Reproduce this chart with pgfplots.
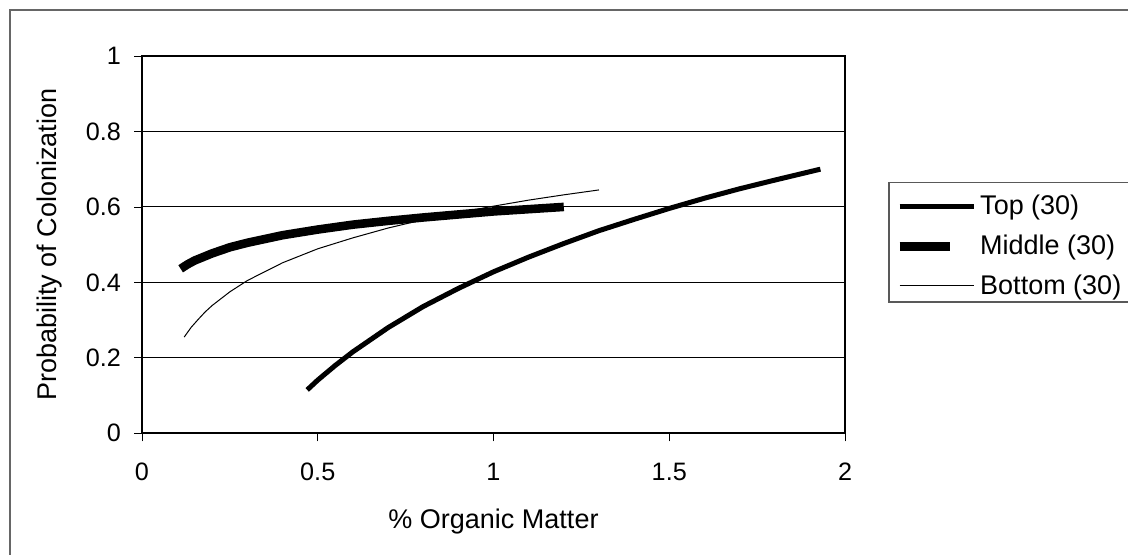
\documentclass[border=0pt]{standalone}
\usepackage{fontspec}
\setmainfont{Liberation Sans}
\usepackage{pgfplots}
\pgfplotsset{compat=1.18}
\newcommand{\tickfont}{\fontsize{12.6}{14}\selectfont}

\begin{document}
\begin{tikzpicture}
  % page area and outer chart frame (only top and left edges fall on the page)
  \useasboundingbox (0,0) rectangle (564pt,277.5pt);
  \clip (0,0) rectangle (564pt,277.5pt);
  \draw[gray!80!black, line width=0.6pt] (5pt,0pt) -- (5pt,272.5pt) -- (564pt,272.5pt);

  \begin{axis}[
    at={(71pt,60.85pt)}, anchor=south west,
    scale only axis, width=351.5pt, height=188.65pt,
    xmin=0, xmax=2, ymin=0, ymax=1,
    xtick={0,0.5,1,1.5,2}, ytick={0,0.2,0.4,0.6,0.8,1},
    xticklabels={{\tickfont 0},{\tickfont 0.5},{\tickfont 1},{\tickfont 1.5},{\tickfont 2}},
    yticklabels={{\tickfont 0},{\tickfont 0.2},{\tickfont 0.4},{\tickfont 0.6},{\tickfont 0.8},{\tickfont 1}},
    tick align=outside, major tick length=4pt,
    tick style={black, line width=0.4pt},
    xtick pos=bottom, ytick pos=left,
    ymajorgrids, grid style={black, line width=0.5pt},
    axis line style={black, line width=0.9pt},
    xticklabel style={yshift=-7.5pt},
    yticklabel style={xshift=-3pt},
    xlabel={\% Organic Matter},
    ylabel={Probability of Colonization},
    label style={font=\fontsize{13.5}{15}\selectfont},
    xlabel style={at={(axis description cs:0.5,0)}, anchor=center, yshift=-44.3pt},
    ylabel style={at={(axis description cs:0,0.5)}, anchor=center, yshift=46pt},
    legend style={draw=none, fill=none,
      at={(axis description cs:1.0626,0.6580)}, anchor=north west,
      font=\fontsize{13.5}{15}\selectfont, inner sep=3pt,
      row sep=4.5pt, cells={anchor=west}},
    legend cell align=left,
  ]
    % Top (30)
    \addplot[black, line width=2.5pt, legend image code/.code={
        \draw[black, line width=2.5pt] (0pt,0pt) -- (37pt,0pt);}]
      coordinates {
      (0.47,0.115) (0.50,0.141) (0.55,0.180) (0.60,0.216) (0.70,0.280)
      (0.80,0.336) (0.90,0.384) (1.00,0.428) (1.10,0.467) (1.20,0.503)
      (1.30,0.537) (1.40,0.567) (1.50,0.596) (1.60,0.623) (1.70,0.648)
      (1.80,0.671) (1.93,0.700)};
    \addlegendentry{Top (30)}

    % Middle (30)
    \addplot[black, line width=4.3pt, legend image code/.code={
        \draw[black, line width=4.3pt] (0pt,0pt) -- (25pt,0pt);}]
      coordinates {
      (0.11,0.436) (0.13,0.448) (0.15,0.458) (0.20,0.477) (0.25,0.493)
      (0.30,0.505) (0.40,0.525) (0.50,0.540) (0.60,0.553) (0.70,0.563)
      (0.80,0.572) (0.90,0.580) (1.00,0.588) (1.10,0.594) (1.20,0.600)};
    \addlegendentry{Middle (30)}

    % Bottom (30)
    \addplot[black, line width=0.5pt, legend image code/.code={
        \draw[black, line width=0.5pt] (0pt,0pt) -- (37pt,0pt);}]
      coordinates {
      (0.12,0.255) (0.14,0.281) (0.16,0.302) (0.18,0.322) (0.20,0.339)
      (0.25,0.375) (0.30,0.405) (0.40,0.452) (0.50,0.489) (0.60,0.518)
      (0.70,0.544) (0.80,0.566) (0.90,0.585) (1.00,0.602) (1.10,0.618)
      (1.20,0.632) (1.30,0.645)};
    \addlegendentry{Bottom (30)}
  \end{axis}

  % legend frame, open on the right where it runs past the page
  \draw[gray!70!black, line width=0.6pt]
    (564pt,186.25pt) -- (444.5pt,186.25pt) -- (444.5pt,126.5pt) -- (564pt,126.5pt);
\end{tikzpicture}
\end{document}
